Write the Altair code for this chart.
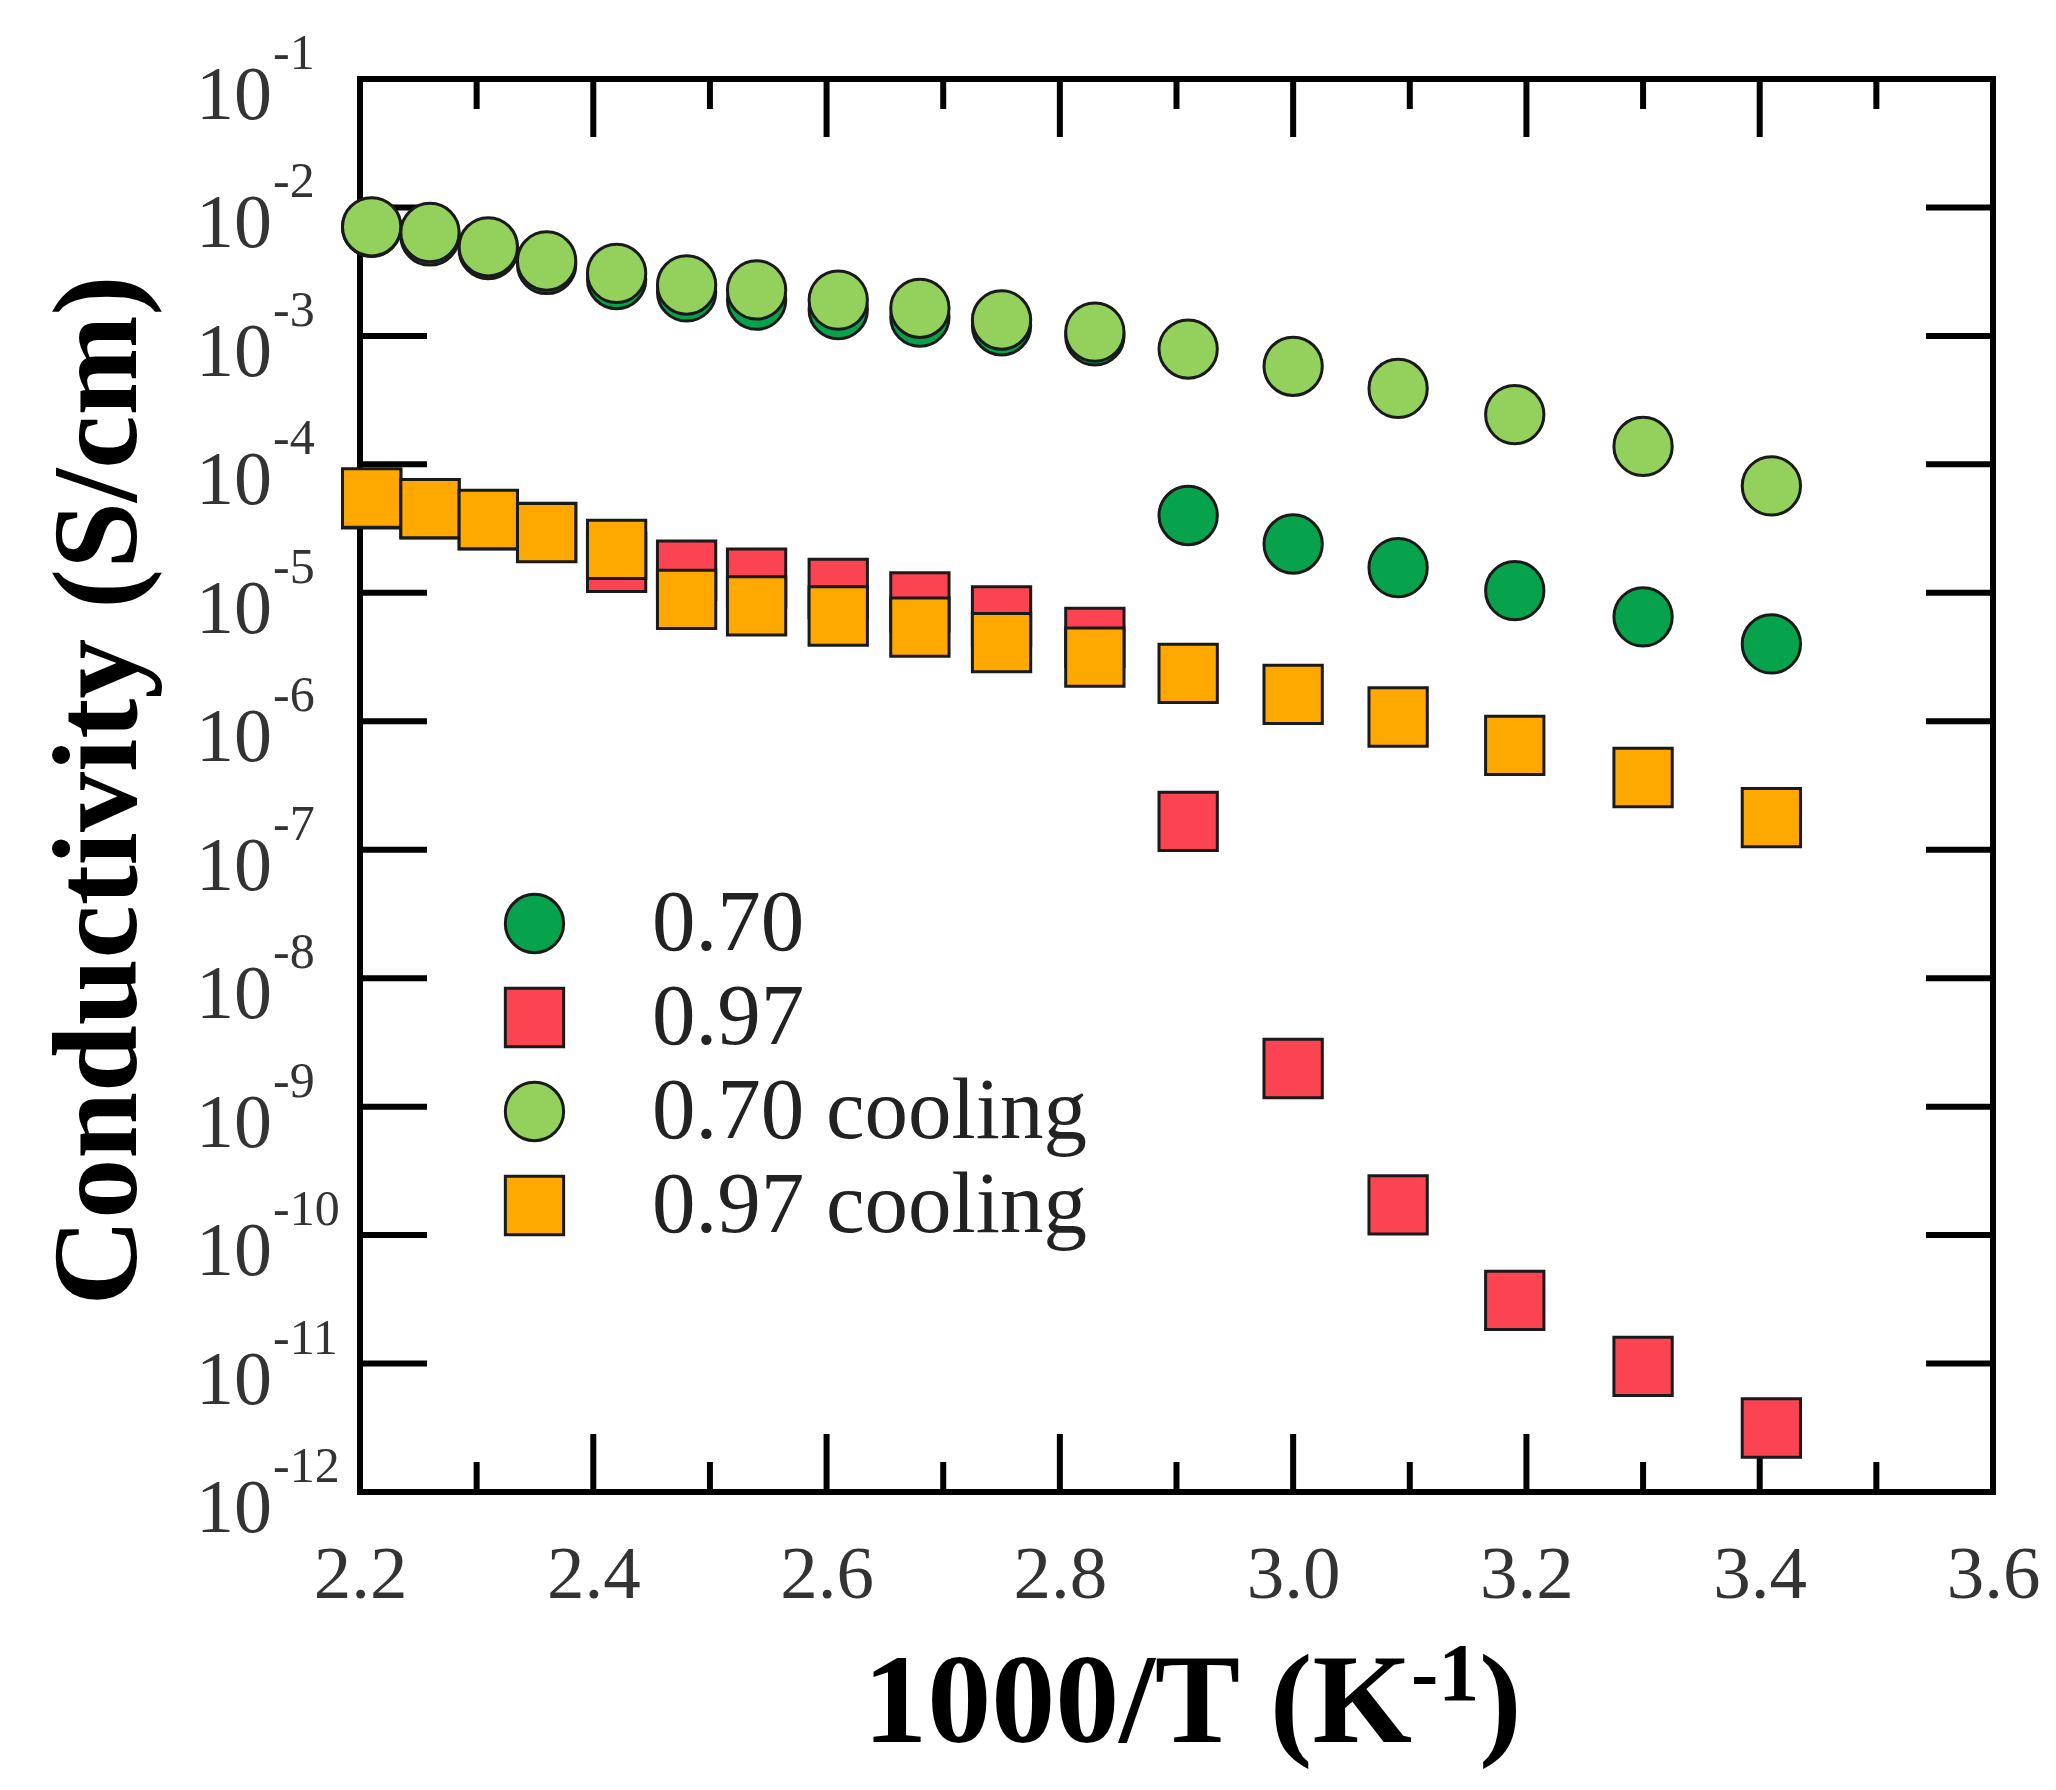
import altair as alt
import pandas as pd

# ---------------- data ----------------
x_vals = [2.21, 2.26, 2.31, 2.36, 2.42, 2.48, 2.54, 2.61, 2.68, 2.75, 2.83,
          2.91, 3.00, 3.09, 3.19, 3.30, 3.41]
s_070 = [7.0e-3, 6.0e-3, 4.7e-3, 3.6e-3, 2.75e-3, 2.2e-3, 1.9e-3, 1.6e-3, 1.4e-3,
         1.2e-3, 1.0e-3, 4.0e-5, 2.4e-5, 1.57e-5, 1.04e-5, 6.5e-6, 4.0e-6]
s_097 = [5.4e-5, 4.5e-5, 3.7e-5, 2.95e-5, 1.73e-5, 1.5e-5, 1.3e-5, 1.08e-5, 8.5e-6,
         6.6e-6, 4.5e-6, 1.66e-7, 1.98e-9, 1.72e-10, 3.1e-11, 9.5e-12, 3.15e-12]
s_070c = [7.07e-3, 6.38e-3, 4.94e-3, 3.83e-3, 3.07e-3, 2.49e-3, 2.28e-3, 1.9e-3, 1.64e-3,
          1.33e-3, 1.07e-3, 7.9e-4, 5.8e-4, 3.9e-4, 2.44e-4, 1.38e-4, 6.8e-5]
s_097c = [5.47e-5, 4.52e-5, 3.72e-5, 2.94e-5, 2.18e-5, 8.9e-6, 7.9e-6, 6.6e-6, 5.4e-6,
          4.1e-6, 3.16e-6, 2.36e-6, 1.62e-6, 1.08e-6, 6.5e-7, 3.65e-7, 1.78e-7]

series_names = ["0.70", "0.97", "0.70 cooling", "0.97 cooling"]
series_colors = ["#07a34c", "#fb4352", "#93d05c", "#ffa800"]
series_shapes = ["circle", "square", "circle", "square"]

x_label_vals = [2.2, 2.4, 2.6, 2.8, 3.0, 3.2, 3.4, 3.6]
x_major_ticks = [2.4, 2.6, 2.8, 3.0, 3.2, 3.4]
x_minor_ticks = [2.3, 2.5, 2.7, 2.9, 3.1, 3.3, 3.5]
y_tick_vals = [1e-2, 1e-3, 1e-4, 1e-5, 1e-6, 1e-7, 1e-8, 1e-9, 1e-10, 1e-11]
y_label_vals = [1e-1, 1e-2, 1e-3, 1e-4, 1e-5, 1e-6, 1e-7, 1e-8, 1e-9, 1e-10, 1e-11, 1e-12]
y_label_base = ["10"] * 12
y_label_exp = ["-1", "-2", "-3", "-4", "-5", "-6", "-7", "-8", "-9", "-10", "-11", "-12"]

x_title_main = "1000/T (K"
x_title_sup = "-1"
x_title_close = ")"

# ---------------- tables ----------------
rows = []
for name, vals in zip(series_names, [s_070, s_097, s_070c, s_097c]):
    for xv, sv in zip(x_vals, vals):
        rows.append({"x": xv, "sigma": sv, "series": name})
df = pd.DataFrame(rows)

W, H = 1633, 1413
SERIF = "Liberation Serif"
INK = "#1a1a1a"

xs = alt.Scale(domain=[2.2, 3.6], nice=False, zero=False)
ys = alt.Scale(type="log", domain=[1e-12, 1e-1], nice=False)

x_axis = alt.Axis(
    values=x_label_vals, format=".1f", labelFont=SERIF, labelFontSize=75,
    labelColor="#333333", labelPadding=105, labelBaseline="alphabetic",
    ticks=False, tickSize=0, domain=False, grid=False,
    labelFlush=False, labelOverlap=False, title=None,
)
y_axis = alt.Axis(
    labels=False, ticks=False, domain=False, grid=False,
    title="Conductivity (S/cm)", titleFont=SERIF, titleFontSize=120,
    titleFontWeight="bold", titleColor="black",
    titleX=-225, titleY=711, titleAngle=270,
    titleAlign="center", titleBaseline="alphabetic",
)

leg = alt.Legend(
    title=None, orient="none", legendX=131, legendY=801,
    labelFont=SERIF, labelFontSize=87, labelColor="#222222", labelLimit=2000,
    symbolSize=3400, symbolStrokeWidth=3, symbolStrokeColor=INK,
    symbolOpacity=1, labelOffset=74, rowPadding=6, padding=0,
    labelBaseline="middle",
)

points = alt.Chart(df).mark_point(
    filled=True, opacity=1, size=3400, strokeWidth=3
).encode(
    x=alt.X("x:Q", scale=xs, axis=x_axis),
    y=alt.Y("sigma:Q", scale=ys, axis=y_axis),
    color=alt.Color("series:N", scale=alt.Scale(domain=series_names, range=series_colors), legend=leg),
    shape=alt.Shape("series:N", scale=alt.Scale(domain=series_names, range=series_shapes), legend=leg),
    stroke=alt.Stroke("series:N", scale=alt.Scale(domain=series_names, range=[INK] * 4), legend=leg),
)

ytick_df = pd.DataFrame({"v": y_tick_vals})
xmaj_df = pd.DataFrame({"v": x_major_ticks})
xmin_df = pd.DataFrame({"v": x_minor_ticks})
ylab_df = pd.DataFrame({"v": y_label_vals, "base": y_label_base, "exp": y_label_exp})

rule = dict(color="black", strokeWidth=6)
y_left = alt.Chart(ytick_df).mark_rule(**rule).encode(
    y=alt.Y("v:Q", scale=ys, axis=y_axis), x=alt.value(0), x2=alt.value(67))
y_right = alt.Chart(ytick_df).mark_rule(**rule).encode(
    y=alt.Y("v:Q", scale=ys, axis=y_axis), x=alt.value(W - 67), x2=alt.value(W))
xmaj_bot = alt.Chart(xmaj_df).mark_rule(**rule).encode(
    x=alt.X("v:Q", scale=xs, axis=x_axis), y=alt.value(H), y2=alt.value(H - 58))
xmaj_top = alt.Chart(xmaj_df).mark_rule(**rule).encode(
    x=alt.X("v:Q", scale=xs, axis=x_axis), y=alt.value(0), y2=alt.value(58))
xmin_bot = alt.Chart(xmin_df).mark_rule(**rule).encode(
    x=alt.X("v:Q", scale=xs, axis=x_axis), y=alt.value(H), y2=alt.value(H - 30))
xmin_top = alt.Chart(xmin_df).mark_rule(**rule).encode(
    x=alt.X("v:Q", scale=xs, axis=x_axis), y=alt.value(0), y2=alt.value(30))

ylab_base = alt.Chart(ylab_df).mark_text(
    align="right", baseline="alphabetic", font=SERIF, fontSize=76, color="#333333", dy=40
).encode(y=alt.Y("v:Q", scale=ys, axis=y_axis), x=alt.value(-88), text="base:N")
ylab_exp = alt.Chart(ylab_df).mark_text(
    align="left", baseline="alphabetic", font=SERIF, fontSize=50, color="#333333", dy=-10
).encode(y=alt.Y("v:Q", scale=ys, axis=y_axis), x=alt.value(-87), text="exp:N")

# x-axis title: main text, superscript exponent, closing parenthesis
title_df = pd.DataFrame({"t": [x_title_main]})
sup_df = pd.DataFrame({"t": [x_title_sup]})
close_df = pd.DataFrame({"t": [x_title_close]})
xt_main = alt.Chart(title_df).mark_text(
    align="right", baseline="alphabetic", font=SERIF, fontSize=128, fontWeight="bold", color="black"
).encode(x=alt.value(1052), y=alt.value(H + 250), text="t:N")
xt_sup = alt.Chart(sup_df).mark_text(
    align="left", baseline="alphabetic", font=SERIF, fontSize=82, fontWeight="bold", color="black"
).encode(x=alt.value(1051), y=alt.value(H + 208), text="t:N")
xt_close = alt.Chart(close_df).mark_text(
    align="left", baseline="alphabetic", font=SERIF, fontSize=128, fontWeight="bold", color="black"
).encode(x=alt.value(1119), y=alt.value(H + 250), text="t:N")

chart = alt.layer(
    y_left, y_right, xmaj_bot, xmaj_top, xmin_bot, xmin_top,
    ylab_base, ylab_exp, xt_main, xt_sup, xt_close, points,
).properties(
    width=W, height=H,
    background="white",
    autosize=alt.AutoSizeParams(type="none"),
    padding={"left": 352, "top": 71, "right": 55, "bottom": 290},
).configure_view(
    stroke="black", strokeWidth=6
)

chart.save("out.html", embed_options={"renderer": "svg", "actions": False})
